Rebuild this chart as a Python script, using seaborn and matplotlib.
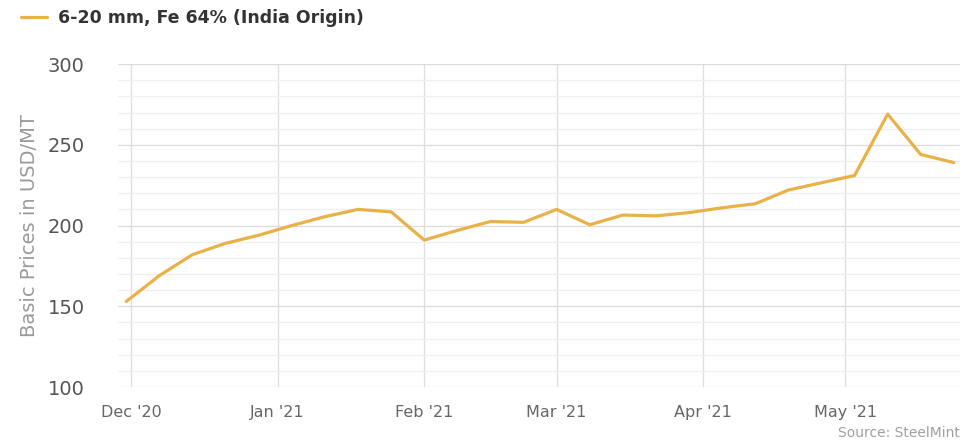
import pandas as pd
import seaborn as sns
import matplotlib.pyplot as plt
import matplotlib.ticker as ticker

# weekly price readings (USD/MT)
dates = pd.date_range("2020-11-30", periods=26, freq="7D")
prices = [153, 169, 182, 189, 194, 200, 205.5, 210, 208.5, 191,
          197, 202.5, 202, 210, 200.5, 206.5, 206, 208, 211, 213.5,
          222, 226.5, 231, 269, 244, 239]
series_name = "6-20 mm, Fe 64% (India Origin)"
month_ticks = pd.to_datetime(["2020-12-01", "2021-01-01", "2021-02-01",
                              "2021-03-01", "2021-04-01", "2021-05-01"])
month_labels = ["Dec '20", "Jan '21", "Feb '21", "Mar '21", "Apr '21", "May '21"]

df = pd.DataFrame({"Date": dates, "Price": prices})

sns.set_style("white")
plt.rcParams["font.family"] = ["DejaVu Sans"]

fig = plt.figure(figsize=(9.65, 4.42), dpi=100)
ax = fig.add_axes([0.1223, 0.1244, 0.8727, 0.7306])

line_color = "#e9b147"
sns.lineplot(data=df, x="Date", y="Price", ax=ax, color=line_color,
             linewidth=2.3, label=series_name, legend=False)

#axis limits
ax.set_ylim(100, 300)
ax.set_xlim(pd.Timestamp("2020-11-28 06:00"), pd.Timestamp("2021-05-25 08:00"))

ax.yaxis.set_major_locator(ticker.MultipleLocator(50))
ax.yaxis.set_minor_locator(ticker.MultipleLocator(10))
ax.set_xticks(month_ticks)
ax.set_xticklabels(month_labels)

ax.grid(axis="y", which="major", color="#dcdcdc", linewidth=0.9)
ax.grid(axis="y", which="minor", color="#efefef", linewidth=0.9)
ax.grid(axis="x", which="major", color="#dedede", linewidth=0.9)
ax.set_axisbelow(True)

for s in ax.spines.values():
    s.set_visible(False)

ax.tick_params(axis="y", which="both", length=0, labelsize=14, labelcolor="#555555", pad=24)
ax.tick_params(axis="x", which="major", length=11, width=0.9, color="#dedede",
               labelsize=11.5, labelcolor="#666666", pad=2, direction="out")
ax.tick_params(axis="x", which="minor", length=0)

ax.set_xlabel("")
ax.set_ylabel("Basic Prices in USD/MT", fontsize=14, color="#9a9a9a", labelpad=6)

# legend at the top left
handles, labels = ax.get_legend_handles_labels()
fig.legend(handles, labels, loc="upper left", bbox_to_anchor=(0.006, 1.015),
           frameon=False, handlelength=1.5, handletextpad=0.6,
           prop={"weight": "bold", "size": 12.5}, labelcolor="#333333")

fig.text(0.995, 0.004, "Source: SteelMint", ha="right", va="bottom",
         fontsize=10, color="#a0a0a0")

plt.savefig("out.png", dpi=100)
